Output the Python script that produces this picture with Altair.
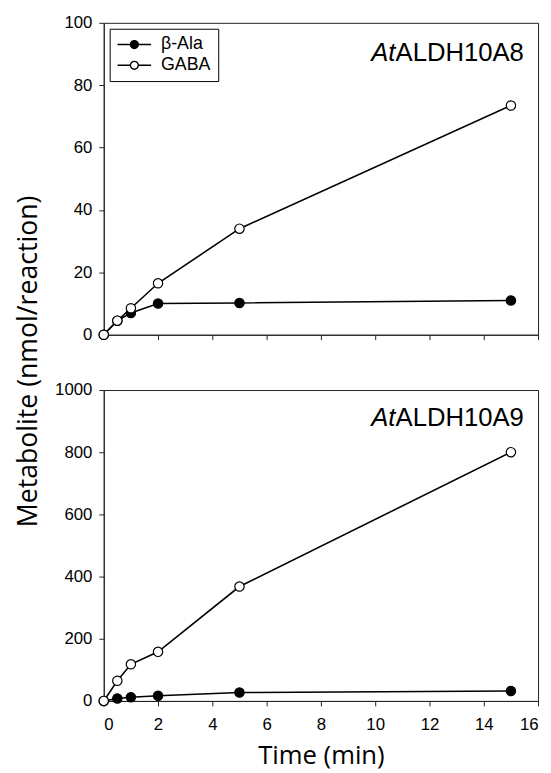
import altair as alt
import pandas as pd

# ---- data ----
time_min = [0, 0.5, 1, 2, 5, 15]
a8_bala = [0, 4.5, 7.0, 10.0, 10.2, 11.0]
a8_gaba = [0, 4.5, 8.5, 16.5, 34.0, 73.5]
a9_bala = [0, 8, 12, 17, 27, 32]
a9_gaba = [0, 65, 118, 158, 368, 800]
series_names = ["β-Ala", "GABA"]
panel_names = ["ALDH10A8", "ALDH10A9"]
species_prefix = ["At"]
x_ticks = [0, 2, 4, 6, 8, 10, 12, 14, 16]
top_y_ticks = [0, 20, 40, 60, 80, 100]
bot_y_ticks = [0, 200, 400, 600, 800, 1000]
y_title = ["Metabolite (nmol/reaction)"]


def long_table(bala, gaba):
    rows = []
    for k, (name, vals) in enumerate(zip(series_names, [bala, gaba])):
        for t, v in zip(time_min, vals):
            rows.append({"series": name, "layer": k, "time": t, "value": v})
    return pd.DataFrame(rows)


df_top = long_table(a8_bala, a8_gaba)
df_bot = long_table(a9_bala, a9_gaba)

W = 440
r = 0.235
legend_path = (
    f"M-1,0H-{r}M{r},0H1"
    f"M{r},0A{r},{r},0,1,1,-{r},0A{r},{r},0,1,1,{r},0Z"
)

top_legend = alt.Legend(
    title=None, orient="top-left", offset=6,
    symbolType=legend_path, symbolSize=1156, symbolStrokeColor="black",
    symbolStrokeWidth=1.4, symbolOpacity=1, clipHeight=18, rowPadding=3,
    labelFont="Liberation Sans", labelFontSize=18, labelColor="black",
    labelOffset=9, padding=7, strokeColor="black", fillColor="white",
    cornerRadius=0,
)


def panel(df, ymax, yticks, height, bottom, name, title_y):
    x = alt.X(
        "time:Q",
        scale=alt.Scale(domain=[0, 16], nice=False, zero=False),
        axis=alt.Axis(
            values=x_ticks, labels=bottom, format="d",
            title="Time (min)" if bottom else None,
            titleFont="Open Sans", titleFontSize=26, titleFontWeight="normal",
            titleColor="black", titlePadding=10, labelPadding=11,
        ),
    )
    y = alt.Y(
        "value:Q",
        scale=alt.Scale(domain=[0, ymax], nice=False),
        axis=alt.Axis(values=yticks, title=None, labelPadding=7, format="d"),
    )
    base = alt.Chart(df)
    line = base.mark_line(color="black", strokeWidth=1.6).encode(
        x=x, y=y, detail="series:N"
    )
    pts = base.mark_circle(size=90, stroke="black", strokeWidth=1.2, opacity=1).encode(
        x=x, y=y,
        fill=alt.Fill(
            "series:N",
            scale=alt.Scale(domain=series_names, range=["black", "white"]),
            legend=top_legend if not bottom else None,
        ),
        order=alt.Order("layer:Q", sort="ascending"),
    )
    pre = alt.Chart(pd.DataFrame({"t": species_prefix})).mark_text(
        font="Liberation Sans", fontSize=26, fontStyle="italic",
        align="left", baseline="alphabetic", color="black",
    ).encode(x=alt.value(271), y=alt.value(title_y), text="t:N")
    main = alt.Chart(pd.DataFrame({"t": [name]})).mark_text(
        font="Liberation Sans", fontSize=26,
        align="left", baseline="alphabetic", color="black",
    ).encode(x=alt.value(295.6), y=alt.value(title_y), text="t:N")
    layers = [line, pts, pre, main]
    if not bottom:
        yt = alt.Chart(pd.DataFrame({"t": y_title})).mark_text(
            font="Open Sans", fontSize=27, angle=270,
            align="center", baseline="middle", color="black",
        ).encode(x=alt.value(-76), y=alt.value(343), text="t:N")
        layers.append(yt)
    return alt.layer(*layers).properties(width=W, height=height)


top = panel(df_top, 100, top_y_ticks, 316, False, panel_names[0], 39)
bot = panel(df_bot, 1000, bot_y_ticks, 315, True, panel_names[1], 36)

chart = (
    alt.vconcat(top, bot, spacing=56, bounds="flush")
    .resolve_scale(fill="independent")
    .properties(
        padding={"left": 6, "top": 0, "right": 4, "bottom": 2},
        background="white",
    )
    .configure_view(stroke="#222", strokeWidth=1)
    .configure_axis(
        domainColor="#222", tickColor="#222", tickSize=5, domainWidth=1,
        tickWidth=1, labelFont="Liberation Sans", labelFontSize=17,
        labelColor="black", grid=False,
    )
)

chart.save("out.html", embed_options={"renderer": "svg", "actions": False})
